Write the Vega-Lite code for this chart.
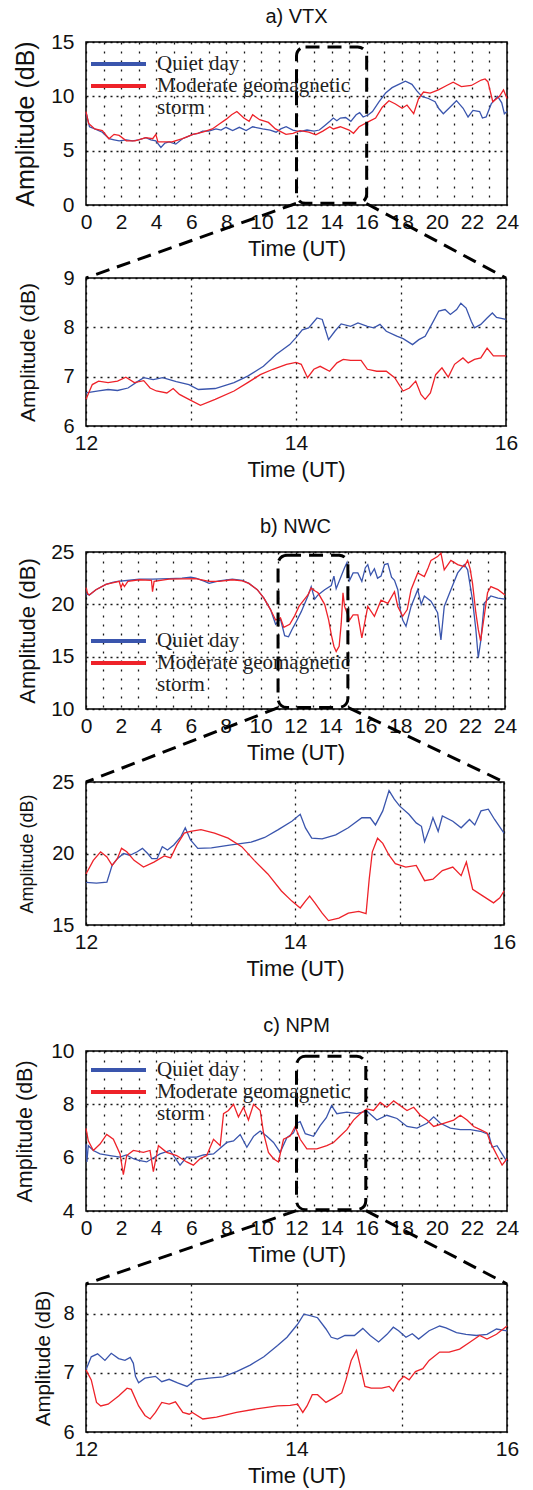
{
"$schema": "https://vega.github.io/schema/vega-lite/v6.json",
"background": "#ffffff",
"padding": {"left": 12, "top": 6, "right": 5, "bottom": 5},
"autosize": {"type": "pad"},
"spacing": 30,
"bounds": "flush",
"resolve": {"scale": {"color": "independent"}, "legend": {"color": "independent"}},
"datasets": {
"vtx": [
{"series":"Quiet day","time":0,"amp":8.5},{"series":"Quiet day","time":0.2,"amp":7.2},{"series":"Quiet day","time":0.5,"amp":7.0},{"series":"Quiet day","time":0.93,"amp":6.7},{"series":"Quiet day","time":1.31,"amp":6.1},{"series":"Quiet day","time":1.6,"amp":6.0},{"series":"Quiet day","time":1.89,"amp":5.9},{"series":"Quiet day","time":2.3,"amp":6.0},{"series":"Quiet day","time":2.65,"amp":5.9},{"series":"Quiet day","time":3.0,"amp":6.0},{"series":"Quiet day","time":3.41,"amp":6.2},{"series":"Quiet day","time":3.7,"amp":6.0},{"series":"Quiet day","time":3.98,"amp":5.9},{"series":"Quiet day","time":4.27,"amp":5.3},{"series":"Quiet day","time":4.5,"amp":5.7},{"series":"Quiet day","time":4.74,"amp":5.8},{"series":"Quiet day","time":5.12,"amp":5.6},{"series":"Quiet day","time":5.5,"amp":6.1},{"series":"Quiet day","time":5.8,"amp":6.3},{"series":"Quiet day","time":6.08,"amp":6.5},{"series":"Quiet day","time":6.4,"amp":6.6},{"series":"Quiet day","time":6.65,"amp":6.8},{"series":"Quiet day","time":7.0,"amp":6.8},{"series":"Quiet day","time":7.41,"amp":7.0},{"series":"Quiet day","time":7.7,"amp":6.9},{"series":"Quiet day","time":7.98,"amp":7.15},{"series":"Quiet day","time":8.36,"amp":6.85},{"series":"Quiet day","time":8.74,"amp":7.15},{"series":"Quiet day","time":9.13,"amp":6.85},{"series":"Quiet day","time":9.5,"amp":7.2},{"series":"Quiet day","time":10.07,"amp":7.0},{"series":"Quiet day","time":10.5,"amp":6.9},{"series":"Quiet day","time":10.84,"amp":6.7},{"series":"Quiet day","time":11.1,"amp":7.0},{"series":"Quiet day","time":11.41,"amp":7.2},{"series":"Quiet day","time":11.79,"amp":6.9},{"series":"Quiet day","time":12.2,"amp":6.75},{"series":"Quiet day","time":12.6,"amp":6.9},{"series":"Quiet day","time":13.0,"amp":6.8},{"series":"Quiet day","time":13.3,"amp":6.9},{"series":"Quiet day","time":13.6,"amp":7.3},{"series":"Quiet day","time":13.9,"amp":7.7},{"series":"Quiet day","time":14.1,"amp":8.0},{"series":"Quiet day","time":14.3,"amp":7.75},{"series":"Quiet day","time":14.5,"amp":8.0},{"series":"Quiet day","time":14.8,"amp":8.05},{"series":"Quiet day","time":15.1,"amp":7.7},{"series":"Quiet day","time":15.4,"amp":8.3},{"series":"Quiet day","time":15.6,"amp":8.5},{"series":"Quiet day","time":15.8,"amp":8.1},{"series":"Quiet day","time":16.1,"amp":8.3},{"series":"Quiet day","time":16.33,"amp":8.6},{"series":"Quiet day","time":16.7,"amp":9.5},{"series":"Quiet day","time":17.08,"amp":10.3},{"series":"Quiet day","time":17.45,"amp":10.8},{"series":"Quiet day","time":17.83,"amp":11.1},{"series":"Quiet day","time":18.21,"amp":11.4},{"series":"Quiet day","time":18.58,"amp":11.1},{"series":"Quiet day","time":18.86,"amp":10.5},{"series":"Quiet day","time":19.15,"amp":10.0},{"series":"Quiet day","time":19.52,"amp":9.8},{"series":"Quiet day","time":19.9,"amp":9.5},{"series":"Quiet day","time":20.1,"amp":8.9},{"series":"Quiet day","time":20.37,"amp":8.4},{"series":"Quiet day","time":20.75,"amp":9.0},{"series":"Quiet day","time":21.12,"amp":9.6},{"series":"Quiet day","time":21.5,"amp":8.9},{"series":"Quiet day","time":21.78,"amp":8.1},{"series":"Quiet day","time":22.06,"amp":8.7},{"series":"Quiet day","time":22.44,"amp":8.6},{"series":"Quiet day","time":22.6,"amp":8.0},{"series":"Quiet day","time":22.81,"amp":8.1},{"series":"Quiet day","time":23.1,"amp":9.3},{"series":"Quiet day","time":23.47,"amp":10.0},{"series":"Quiet day","time":23.7,"amp":9.4},{"series":"Quiet day","time":23.85,"amp":8.4},{"series":"Quiet day","time":24,"amp":8.6},
{"series":"Moderate geomagnetic storm","time":0,"amp":8.6},{"series":"Moderate geomagnetic storm","time":0.15,"amp":7.5},{"series":"Moderate geomagnetic storm","time":0.5,"amp":7.0},{"series":"Moderate geomagnetic storm","time":0.93,"amp":6.85},{"series":"Moderate geomagnetic storm","time":1.31,"amp":6.1},{"series":"Moderate geomagnetic storm","time":1.6,"amp":6.5},{"series":"Moderate geomagnetic storm","time":1.89,"amp":6.4},{"series":"Moderate geomagnetic storm","time":2.3,"amp":5.9},{"series":"Moderate geomagnetic storm","time":2.8,"amp":5.9},{"series":"Moderate geomagnetic storm","time":3.41,"amp":6.2},{"series":"Moderate geomagnetic storm","time":3.8,"amp":6.1},{"series":"Moderate geomagnetic storm","time":3.98,"amp":6.5},{"series":"Moderate geomagnetic storm","time":4.1,"amp":5.8},{"series":"Moderate geomagnetic storm","time":4.9,"amp":5.8},{"series":"Moderate geomagnetic storm","time":5.5,"amp":6.1},{"series":"Moderate geomagnetic storm","time":6.1,"amp":6.5},{"series":"Moderate geomagnetic storm","time":6.65,"amp":6.7},{"series":"Moderate geomagnetic storm","time":7.2,"amp":7.0},{"series":"Moderate geomagnetic storm","time":7.6,"amp":7.45},{"series":"Moderate geomagnetic storm","time":8.0,"amp":7.9},{"series":"Moderate geomagnetic storm","time":8.3,"amp":8.3},{"series":"Moderate geomagnetic storm","time":8.6,"amp":8.6},{"series":"Moderate geomagnetic storm","time":9.0,"amp":8.0},{"series":"Moderate geomagnetic storm","time":9.3,"amp":7.7},{"series":"Moderate geomagnetic storm","time":9.5,"amp":8.3},{"series":"Moderate geomagnetic storm","time":9.9,"amp":7.85},{"series":"Moderate geomagnetic storm","time":10.4,"amp":7.6},{"series":"Moderate geomagnetic storm","time":10.8,"amp":7.0},{"series":"Moderate geomagnetic storm","time":11.4,"amp":6.5},{"series":"Moderate geomagnetic storm","time":11.8,"amp":6.6},{"series":"Moderate geomagnetic storm","time":12.2,"amp":6.85},{"series":"Moderate geomagnetic storm","time":12.7,"amp":6.7},{"series":"Moderate geomagnetic storm","time":13.1,"amp":6.45},{"series":"Moderate geomagnetic storm","time":13.5,"amp":6.8},{"series":"Moderate geomagnetic storm","time":13.9,"amp":7.2},{"series":"Moderate geomagnetic storm","time":14.1,"amp":7.0},{"series":"Moderate geomagnetic storm","time":14.5,"amp":7.2},{"series":"Moderate geomagnetic storm","time":15.0,"amp":6.9},{"series":"Moderate geomagnetic storm","time":15.25,"amp":6.6},{"series":"Moderate geomagnetic storm","time":15.57,"amp":7.2},{"series":"Moderate geomagnetic storm","time":16.14,"amp":7.7},{"series":"Moderate geomagnetic storm","time":16.51,"amp":8.0},{"series":"Moderate geomagnetic storm","time":16.89,"amp":9.0},{"series":"Moderate geomagnetic storm","time":17.27,"amp":9.6},{"series":"Moderate geomagnetic storm","time":17.64,"amp":9.3},{"series":"Moderate geomagnetic storm","time":18.02,"amp":8.9},{"series":"Moderate geomagnetic storm","time":18.3,"amp":9.2},{"series":"Moderate geomagnetic storm","time":18.68,"amp":8.4},{"series":"Moderate geomagnetic storm","time":18.96,"amp":9.8},{"series":"Moderate geomagnetic storm","time":19.24,"amp":10.4},{"series":"Moderate geomagnetic storm","time":19.62,"amp":10.3},{"series":"Moderate geomagnetic storm","time":20.09,"amp":10.6},{"series":"Moderate geomagnetic storm","time":20.56,"amp":11.0},{"series":"Moderate geomagnetic storm","time":20.93,"amp":11.3},{"series":"Moderate geomagnetic storm","time":21.4,"amp":10.9},{"series":"Moderate geomagnetic storm","time":21.97,"amp":11.0},{"series":"Moderate geomagnetic storm","time":22.53,"amp":11.5},{"series":"Moderate geomagnetic storm","time":22.75,"amp":11.6},{"series":"Moderate geomagnetic storm","time":22.91,"amp":11.35},{"series":"Moderate geomagnetic storm","time":23.19,"amp":9.5},{"series":"Moderate geomagnetic storm","time":23.57,"amp":10.0},{"series":"Moderate geomagnetic storm","time":23.8,"amp":10.6},{"series":"Moderate geomagnetic storm","time":24,"amp":9.8}
],
"vtxZoom": [
{"series":"Quiet day","time":12.0,"amp":6.67},{"series":"Quiet day","time":12.12,"amp":6.71},{"series":"Quiet day","time":12.21,"amp":6.74},{"series":"Quiet day","time":12.3,"amp":6.72},{"series":"Quiet day","time":12.4,"amp":6.77},{"series":"Quiet day","time":12.49,"amp":6.9},{"series":"Quiet day","time":12.55,"amp":6.98},{"series":"Quiet day","time":12.64,"amp":6.94},{"series":"Quiet day","time":12.73,"amp":6.98},{"series":"Quiet day","time":12.86,"amp":6.9},{"series":"Quiet day","time":12.98,"amp":6.84},{"series":"Quiet day","time":13.07,"amp":6.74},{"series":"Quiet day","time":13.23,"amp":6.76},{"series":"Quiet day","time":13.41,"amp":6.88},{"series":"Quiet day","time":13.54,"amp":7.01},{"series":"Quiet day","time":13.69,"amp":7.21},{"series":"Quiet day","time":13.81,"amp":7.45},{"series":"Quiet day","time":13.94,"amp":7.65},{"series":"Quiet day","time":14.0,"amp":7.79},{"series":"Quiet day","time":14.06,"amp":7.95},{"series":"Quiet day","time":14.12,"amp":7.99},{"series":"Quiet day","time":14.2,"amp":8.19},{"series":"Quiet day","time":14.25,"amp":8.16},{"series":"Quiet day","time":14.31,"amp":7.75},{"series":"Quiet day","time":14.37,"amp":7.92},{"series":"Quiet day","time":14.43,"amp":8.07},{"series":"Quiet day","time":14.52,"amp":8.02},{"series":"Quiet day","time":14.59,"amp":8.09},{"series":"Quiet day","time":14.68,"amp":8.02},{"series":"Quiet day","time":14.74,"amp":7.99},{"series":"Quiet day","time":14.8,"amp":8.06},{"series":"Quiet day","time":14.86,"amp":7.92},{"series":"Quiet day","time":14.96,"amp":7.82},{"series":"Quiet day","time":15.02,"amp":7.77},{"series":"Quiet day","time":15.11,"amp":7.65},{"series":"Quiet day","time":15.17,"amp":7.75},{"series":"Quiet day","time":15.23,"amp":7.82},{"series":"Quiet day","time":15.3,"amp":8.09},{"series":"Quiet day","time":15.36,"amp":8.33},{"series":"Quiet day","time":15.42,"amp":8.36},{"series":"Quiet day","time":15.47,"amp":8.26},{"series":"Quiet day","time":15.53,"amp":8.36},{"series":"Quiet day","time":15.57,"amp":8.49},{"series":"Quiet day","time":15.62,"amp":8.39},{"series":"Quiet day","time":15.67,"amp":8.12},{"series":"Quiet day","time":15.7,"amp":7.99},{"series":"Quiet day","time":15.76,"amp":8.06},{"series":"Quiet day","time":15.82,"amp":8.19},{"series":"Quiet day","time":15.87,"amp":8.29},{"series":"Quiet day","time":15.91,"amp":8.2},{"series":"Quiet day","time":16.0,"amp":8.16},
{"series":"Moderate geomagnetic storm","time":12.0,"amp":6.54},{"series":"Moderate geomagnetic storm","time":12.06,"amp":6.84},{"series":"Moderate geomagnetic storm","time":12.12,"amp":6.91},{"series":"Moderate geomagnetic storm","time":12.21,"amp":6.88},{"series":"Moderate geomagnetic storm","time":12.3,"amp":6.91},{"series":"Moderate geomagnetic storm","time":12.38,"amp":6.99},{"series":"Moderate geomagnetic storm","time":12.46,"amp":6.88},{"series":"Moderate geomagnetic storm","time":12.55,"amp":6.92},{"series":"Moderate geomagnetic storm","time":12.61,"amp":6.77},{"series":"Moderate geomagnetic storm","time":12.67,"amp":6.71},{"series":"Moderate geomagnetic storm","time":12.77,"amp":6.67},{"series":"Moderate geomagnetic storm","time":12.83,"amp":6.76},{"series":"Moderate geomagnetic storm","time":12.89,"amp":6.64},{"series":"Moderate geomagnetic storm","time":12.98,"amp":6.54},{"series":"Moderate geomagnetic storm","time":13.09,"amp":6.42},{"series":"Moderate geomagnetic storm","time":13.23,"amp":6.54},{"series":"Moderate geomagnetic storm","time":13.41,"amp":6.71},{"series":"Moderate geomagnetic storm","time":13.54,"amp":6.88},{"series":"Moderate geomagnetic storm","time":13.66,"amp":7.04},{"series":"Moderate geomagnetic storm","time":13.78,"amp":7.15},{"series":"Moderate geomagnetic storm","time":13.91,"amp":7.25},{"series":"Moderate geomagnetic storm","time":14.0,"amp":7.29},{"series":"Moderate geomagnetic storm","time":14.05,"amp":7.25},{"series":"Moderate geomagnetic storm","time":14.11,"amp":6.98},{"series":"Moderate geomagnetic storm","time":14.17,"amp":7.15},{"series":"Moderate geomagnetic storm","time":14.23,"amp":7.21},{"series":"Moderate geomagnetic storm","time":14.32,"amp":7.11},{"series":"Moderate geomagnetic storm","time":14.39,"amp":7.28},{"series":"Moderate geomagnetic storm","time":14.45,"amp":7.35},{"series":"Moderate geomagnetic storm","time":14.52,"amp":7.33},{"series":"Moderate geomagnetic storm","time":14.62,"amp":7.33},{"series":"Moderate geomagnetic storm","time":14.68,"amp":7.15},{"series":"Moderate geomagnetic storm","time":14.77,"amp":7.11},{"series":"Moderate geomagnetic storm","time":14.86,"amp":7.11},{"series":"Moderate geomagnetic storm","time":14.94,"amp":6.98},{"series":"Moderate geomagnetic storm","time":15.02,"amp":6.71},{"series":"Moderate geomagnetic storm","time":15.08,"amp":6.77},{"series":"Moderate geomagnetic storm","time":15.14,"amp":6.91},{"series":"Moderate geomagnetic storm","time":15.19,"amp":6.64},{"series":"Moderate geomagnetic storm","time":15.23,"amp":6.54},{"series":"Moderate geomagnetic storm","time":15.28,"amp":6.67},{"series":"Moderate geomagnetic storm","time":15.33,"amp":7.04},{"series":"Moderate geomagnetic storm","time":15.39,"amp":7.18},{"series":"Moderate geomagnetic storm","time":15.45,"amp":6.99},{"series":"Moderate geomagnetic storm","time":15.51,"amp":7.25},{"series":"Moderate geomagnetic storm","time":15.59,"amp":7.38},{"series":"Moderate geomagnetic storm","time":15.64,"amp":7.28},{"series":"Moderate geomagnetic storm","time":15.7,"amp":7.35},{"series":"Moderate geomagnetic storm","time":15.76,"amp":7.38},{"series":"Moderate geomagnetic storm","time":15.82,"amp":7.58},{"series":"Moderate geomagnetic storm","time":15.88,"amp":7.42},{"series":"Moderate geomagnetic storm","time":16.0,"amp":7.42}
],
"nwc": [
{"series":"Quiet day","time":0,"amp":21.0},{"series":"Quiet day","time":0.19,"amp":20.9},{"series":"Quiet day","time":0.57,"amp":21.4},{"series":"Quiet day","time":1.14,"amp":21.9},{"series":"Quiet day","time":1.52,"amp":22.1},{"series":"Quiet day","time":1.81,"amp":22.2},{"series":"Quiet day","time":2.5,"amp":22.3},{"series":"Quiet day","time":3.05,"amp":22.4},{"series":"Quiet day","time":3.81,"amp":22.4},{"series":"Quiet day","time":4.76,"amp":22.45},{"series":"Quiet day","time":5.5,"amp":22.5},{"series":"Quiet day","time":6.0,"amp":22.6},{"series":"Quiet day","time":6.29,"amp":22.5},{"series":"Quiet day","time":6.8,"amp":22.2},{"series":"Quiet day","time":7.05,"amp":22.0},{"series":"Quiet day","time":7.62,"amp":22.25},{"series":"Quiet day","time":8.38,"amp":22.4},{"series":"Quiet day","time":8.95,"amp":22.3},{"series":"Quiet day","time":9.33,"amp":22.0},{"series":"Quiet day","time":9.81,"amp":21.4},{"series":"Quiet day","time":10.19,"amp":20.6},{"series":"Quiet day","time":10.57,"amp":19.5},{"series":"Quiet day","time":10.86,"amp":18.1},{"series":"Quiet day","time":11.14,"amp":18.6},{"series":"Quiet day","time":11.38,"amp":17.0},{"series":"Quiet day","time":11.6,"amp":16.9},{"series":"Quiet day","time":11.8,"amp":17.6},{"series":"Quiet day","time":12.0,"amp":18.2},{"series":"Quiet day","time":12.33,"amp":19.3},{"series":"Quiet day","time":12.71,"amp":20.8},{"series":"Quiet day","time":12.9,"amp":21.7},{"series":"Quiet day","time":13.1,"amp":20.5},{"series":"Quiet day","time":13.29,"amp":20.9},{"series":"Quiet day","time":13.67,"amp":21.4},{"series":"Quiet day","time":14.05,"amp":21.8},{"series":"Quiet day","time":14.2,"amp":22.7},{"series":"Quiet day","time":14.33,"amp":21.5},{"series":"Quiet day","time":14.62,"amp":22.7},{"series":"Quiet day","time":14.81,"amp":23.5},{"series":"Quiet day","time":14.95,"amp":24.0},{"series":"Quiet day","time":15.1,"amp":22.3},{"series":"Quiet day","time":15.3,"amp":23.0},{"series":"Quiet day","time":15.57,"amp":23.0},{"series":"Quiet day","time":15.8,"amp":22.2},{"series":"Quiet day","time":16.0,"amp":23.5},{"series":"Quiet day","time":16.14,"amp":23.8},{"series":"Quiet day","time":16.3,"amp":22.8},{"series":"Quiet day","time":16.52,"amp":23.4},{"series":"Quiet day","time":16.7,"amp":22.5},{"series":"Quiet day","time":16.9,"amp":22.7},{"series":"Quiet day","time":17.1,"amp":23.8},{"series":"Quiet day","time":17.29,"amp":23.9},{"series":"Quiet day","time":17.5,"amp":22.6},{"series":"Quiet day","time":17.67,"amp":22.3},{"series":"Quiet day","time":17.86,"amp":21.4},{"series":"Quiet day","time":18.0,"amp":19.5},{"series":"Quiet day","time":18.14,"amp":18.5},{"series":"Quiet day","time":18.33,"amp":17.9},{"series":"Quiet day","time":18.62,"amp":19.8},{"series":"Quiet day","time":19.0,"amp":21.4},{"series":"Quiet day","time":19.2,"amp":20.0},{"series":"Quiet day","time":19.38,"amp":20.8},{"series":"Quiet day","time":19.76,"amp":20.3},{"series":"Quiet day","time":20.14,"amp":19.2},{"series":"Quiet day","time":20.33,"amp":16.6},{"series":"Quiet day","time":20.52,"amp":19.8},{"series":"Quiet day","time":20.9,"amp":21.4},{"series":"Quiet day","time":21.29,"amp":23.0},{"series":"Quiet day","time":21.67,"amp":23.8},{"series":"Quiet day","time":21.86,"amp":23.3},{"series":"Quiet day","time":22.14,"amp":20.4},{"series":"Quiet day","time":22.33,"amp":17.6},{"series":"Quiet day","time":22.47,"amp":14.9},{"series":"Quiet day","time":22.62,"amp":16.6},{"series":"Quiet day","time":22.81,"amp":20.1},{"series":"Quiet day","time":23.19,"amp":20.8},{"series":"Quiet day","time":23.6,"amp":20.6},{"series":"Quiet day","time":24,"amp":20.5},
{"series":"Moderate geomagnetic storm","time":0,"amp":21.6},{"series":"Moderate geomagnetic storm","time":0.1,"amp":21.0},{"series":"Moderate geomagnetic storm","time":0.19,"amp":20.9},{"series":"Moderate geomagnetic storm","time":0.57,"amp":21.4},{"series":"Moderate geomagnetic storm","time":1.14,"amp":21.9},{"series":"Moderate geomagnetic storm","time":1.52,"amp":22.05},{"series":"Moderate geomagnetic storm","time":1.9,"amp":22.2},{"series":"Moderate geomagnetic storm","time":2.0,"amp":21.6},{"series":"Moderate geomagnetic storm","time":2.1,"amp":22.0},{"series":"Moderate geomagnetic storm","time":2.2,"amp":21.7},{"series":"Moderate geomagnetic storm","time":2.4,"amp":22.2},{"series":"Moderate geomagnetic storm","time":3.05,"amp":22.35},{"series":"Moderate geomagnetic storm","time":3.75,"amp":22.3},{"series":"Moderate geomagnetic storm","time":3.81,"amp":21.2},{"series":"Moderate geomagnetic storm","time":3.9,"amp":22.2},{"series":"Moderate geomagnetic storm","time":4.76,"amp":22.4},{"series":"Moderate geomagnetic storm","time":6.29,"amp":22.45},{"series":"Moderate geomagnetic storm","time":7.05,"amp":22.2},{"series":"Moderate geomagnetic storm","time":7.62,"amp":22.2},{"series":"Moderate geomagnetic storm","time":8.38,"amp":22.35},{"series":"Moderate geomagnetic storm","time":8.95,"amp":22.25},{"series":"Moderate geomagnetic storm","time":9.33,"amp":22.0},{"series":"Moderate geomagnetic storm","time":9.81,"amp":21.4},{"series":"Moderate geomagnetic storm","time":10.19,"amp":20.6},{"series":"Moderate geomagnetic storm","time":10.57,"amp":19.5},{"series":"Moderate geomagnetic storm","time":10.86,"amp":18.5},{"series":"Moderate geomagnetic storm","time":11.14,"amp":18.7},{"series":"Moderate geomagnetic storm","time":11.33,"amp":17.8},{"series":"Moderate geomagnetic storm","time":11.67,"amp":18.1},{"series":"Moderate geomagnetic storm","time":11.95,"amp":18.9},{"series":"Moderate geomagnetic storm","time":12.2,"amp":19.8},{"series":"Moderate geomagnetic storm","time":12.33,"amp":20.1},{"series":"Moderate geomagnetic storm","time":12.71,"amp":20.9},{"series":"Moderate geomagnetic storm","time":12.9,"amp":21.55},{"series":"Moderate geomagnetic storm","time":13.1,"amp":21.3},{"series":"Moderate geomagnetic storm","time":13.29,"amp":21.1},{"series":"Moderate geomagnetic storm","time":13.67,"amp":20.0},{"series":"Moderate geomagnetic storm","time":13.9,"amp":18.5},{"series":"Moderate geomagnetic storm","time":14.05,"amp":17.1},{"series":"Moderate geomagnetic storm","time":14.2,"amp":16.0},{"series":"Moderate geomagnetic storm","time":14.33,"amp":15.5},{"series":"Moderate geomagnetic storm","time":14.5,"amp":16.0},{"series":"Moderate geomagnetic storm","time":14.62,"amp":18.2},{"series":"Moderate geomagnetic storm","time":14.72,"amp":21.1},{"series":"Moderate geomagnetic storm","time":14.81,"amp":19.8},{"series":"Moderate geomagnetic storm","time":15.1,"amp":18.5},{"series":"Moderate geomagnetic storm","time":15.3,"amp":19.0},{"series":"Moderate geomagnetic storm","time":15.57,"amp":19.0},{"series":"Moderate geomagnetic storm","time":15.8,"amp":16.8},{"series":"Moderate geomagnetic storm","time":16.14,"amp":19.8},{"series":"Moderate geomagnetic storm","time":16.52,"amp":18.86},{"series":"Moderate geomagnetic storm","time":16.9,"amp":20.4},{"series":"Moderate geomagnetic storm","time":17.29,"amp":20.1},{"series":"Moderate geomagnetic storm","time":17.67,"amp":21.2},{"series":"Moderate geomagnetic storm","time":17.86,"amp":19.8},{"series":"Moderate geomagnetic storm","time":18.14,"amp":18.86},{"series":"Moderate geomagnetic storm","time":18.4,"amp":19.5},{"series":"Moderate geomagnetic storm","time":18.62,"amp":21.4},{"series":"Moderate geomagnetic storm","time":19.0,"amp":23.0},{"series":"Moderate geomagnetic storm","time":19.38,"amp":22.66},{"series":"Moderate geomagnetic storm","time":19.6,"amp":23.5},{"series":"Moderate geomagnetic storm","time":19.76,"amp":24.2},{"series":"Moderate geomagnetic storm","time":20.14,"amp":24.56},{"series":"Moderate geomagnetic storm","time":20.33,"amp":24.9},{"series":"Moderate geomagnetic storm","time":20.52,"amp":23.3},{"series":"Moderate geomagnetic storm","time":20.9,"amp":24.2},{"series":"Moderate geomagnetic storm","time":21.29,"amp":23.8},{"series":"Moderate geomagnetic storm","time":21.67,"amp":23.6},{"series":"Moderate geomagnetic storm","time":21.86,"amp":24.2},{"series":"Moderate geomagnetic storm","time":22.0,"amp":23.4},{"series":"Moderate geomagnetic storm","time":22.14,"amp":22.0},{"series":"Moderate geomagnetic storm","time":22.33,"amp":19.2},{"series":"Moderate geomagnetic storm","time":22.47,"amp":17.6},{"series":"Moderate geomagnetic storm","time":22.6,"amp":16.5},{"series":"Moderate geomagnetic storm","time":22.81,"amp":18.86},{"series":"Moderate geomagnetic storm","time":23.0,"amp":21.1},{"series":"Moderate geomagnetic storm","time":23.19,"amp":21.7},{"series":"Moderate geomagnetic storm","time":23.6,"amp":21.4},{"series":"Moderate geomagnetic storm","time":24,"amp":20.9}
],
"nwcZoom": [
{"series":"Quiet day","time":12.0,"amp":17.98},{"series":"Quiet day","time":12.1,"amp":17.93},{"series":"Quiet day","time":12.2,"amp":18.0},{"series":"Quiet day","time":12.25,"amp":19.17},{"series":"Quiet day","time":12.3,"amp":19.64},{"series":"Quiet day","time":12.36,"amp":20.0},{"series":"Quiet day","time":12.42,"amp":19.88},{"series":"Quiet day","time":12.49,"amp":20.12},{"series":"Quiet day","time":12.54,"amp":20.36},{"series":"Quiet day","time":12.59,"amp":20.0},{"series":"Quiet day","time":12.63,"amp":19.64},{"series":"Quiet day","time":12.68,"amp":19.64},{"series":"Quiet day","time":12.73,"amp":20.48},{"series":"Quiet day","time":12.78,"amp":20.24},{"series":"Quiet day","time":12.84,"amp":20.6},{"series":"Quiet day","time":12.91,"amp":21.2},{"series":"Quiet day","time":12.95,"amp":21.8},{"series":"Quiet day","time":13.0,"amp":20.95},{"series":"Quiet day","time":13.07,"amp":20.36},{"series":"Quiet day","time":13.2,"amp":20.4},{"series":"Quiet day","time":13.39,"amp":20.6},{"series":"Quiet day","time":13.58,"amp":20.79},{"series":"Quiet day","time":13.71,"amp":21.12},{"series":"Quiet day","time":13.84,"amp":21.67},{"series":"Quiet day","time":13.97,"amp":22.26},{"series":"Quiet day","time":14.05,"amp":22.74},{"series":"Quiet day","time":14.1,"amp":21.79},{"series":"Quiet day","time":14.16,"amp":21.07},{"series":"Quiet day","time":14.26,"amp":21.02},{"series":"Quiet day","time":14.39,"amp":21.3},{"series":"Quiet day","time":14.51,"amp":21.8},{"series":"Quiet day","time":14.64,"amp":22.5},{"series":"Quiet day","time":14.72,"amp":22.5},{"series":"Quiet day","time":14.77,"amp":22.0},{"series":"Quiet day","time":14.84,"amp":22.98},{"series":"Quiet day","time":14.9,"amp":24.4},{"series":"Quiet day","time":14.95,"amp":23.8},{"series":"Quiet day","time":15.0,"amp":23.33},{"series":"Quiet day","time":15.09,"amp":22.74},{"series":"Quiet day","time":15.16,"amp":22.14},{"series":"Quiet day","time":15.21,"amp":21.9},{"series":"Quiet day","time":15.24,"amp":20.83},{"series":"Quiet day","time":15.29,"amp":21.79},{"series":"Quiet day","time":15.32,"amp":22.5},{"series":"Quiet day","time":15.37,"amp":21.55},{"series":"Quiet day","time":15.41,"amp":22.62},{"series":"Quiet day","time":15.51,"amp":22.26},{"series":"Quiet day","time":15.59,"amp":21.8},{"series":"Quiet day","time":15.67,"amp":22.38},{"series":"Quiet day","time":15.72,"amp":22.0},{"series":"Quiet day","time":15.78,"amp":22.98},{"series":"Quiet day","time":15.85,"amp":23.1},{"series":"Quiet day","time":15.91,"amp":22.38},{"series":"Quiet day","time":16.0,"amp":21.43},
{"series":"Moderate geomagnetic storm","time":12.0,"amp":18.57},{"series":"Moderate geomagnetic storm","time":12.07,"amp":19.52},{"series":"Moderate geomagnetic storm","time":12.14,"amp":20.12},{"series":"Moderate geomagnetic storm","time":12.2,"amp":19.76},{"series":"Moderate geomagnetic storm","time":12.25,"amp":19.17},{"series":"Moderate geomagnetic storm","time":12.3,"amp":19.64},{"series":"Moderate geomagnetic storm","time":12.34,"amp":20.36},{"series":"Moderate geomagnetic storm","time":12.39,"amp":20.12},{"series":"Moderate geomagnetic storm","time":12.46,"amp":19.52},{"series":"Moderate geomagnetic storm","time":12.55,"amp":19.05},{"series":"Moderate geomagnetic storm","time":12.65,"amp":19.4},{"series":"Moderate geomagnetic storm","time":12.75,"amp":19.83},{"series":"Moderate geomagnetic storm","time":12.81,"amp":19.69},{"series":"Moderate geomagnetic storm","time":12.87,"amp":20.6},{"series":"Moderate geomagnetic storm","time":12.94,"amp":21.43},{"series":"Moderate geomagnetic storm","time":13.0,"amp":21.55},{"series":"Moderate geomagnetic storm","time":13.1,"amp":21.67},{"series":"Moderate geomagnetic storm","time":13.23,"amp":21.43},{"series":"Moderate geomagnetic storm","time":13.36,"amp":21.07},{"series":"Moderate geomagnetic storm","time":13.49,"amp":20.48},{"series":"Moderate geomagnetic storm","time":13.61,"amp":19.52},{"series":"Moderate geomagnetic storm","time":13.74,"amp":18.57},{"series":"Moderate geomagnetic storm","time":13.87,"amp":17.38},{"series":"Moderate geomagnetic storm","time":13.97,"amp":16.67},{"series":"Moderate geomagnetic storm","time":14.05,"amp":16.19},{"series":"Moderate geomagnetic storm","time":14.1,"amp":16.67},{"series":"Moderate geomagnetic storm","time":14.14,"amp":17.02},{"series":"Moderate geomagnetic storm","time":14.19,"amp":16.55},{"series":"Moderate geomagnetic storm","time":14.26,"amp":15.83},{"series":"Moderate geomagnetic storm","time":14.32,"amp":15.31},{"series":"Moderate geomagnetic storm","time":14.42,"amp":15.48},{"series":"Moderate geomagnetic storm","time":14.51,"amp":15.83},{"series":"Moderate geomagnetic storm","time":14.61,"amp":15.95},{"series":"Moderate geomagnetic storm","time":14.68,"amp":15.79},{"series":"Moderate geomagnetic storm","time":14.71,"amp":18.2},{"series":"Moderate geomagnetic storm","time":14.74,"amp":20.12},{"series":"Moderate geomagnetic storm","time":14.79,"amp":21.07},{"series":"Moderate geomagnetic storm","time":14.84,"amp":20.71},{"series":"Moderate geomagnetic storm","time":14.9,"amp":19.88},{"series":"Moderate geomagnetic storm","time":14.96,"amp":19.29},{"series":"Moderate geomagnetic storm","time":15.06,"amp":19.05},{"series":"Moderate geomagnetic storm","time":15.16,"amp":19.17},{"series":"Moderate geomagnetic storm","time":15.24,"amp":18.1},{"series":"Moderate geomagnetic storm","time":15.32,"amp":18.2},{"series":"Moderate geomagnetic storm","time":15.41,"amp":18.81},{"series":"Moderate geomagnetic storm","time":15.51,"amp":19.05},{"series":"Moderate geomagnetic storm","time":15.59,"amp":18.45},{"series":"Moderate geomagnetic storm","time":15.64,"amp":19.4},{"series":"Moderate geomagnetic storm","time":15.7,"amp":17.5},{"series":"Moderate geomagnetic storm","time":15.8,"amp":17.02},{"series":"Moderate geomagnetic storm","time":15.9,"amp":16.55},{"series":"Moderate geomagnetic storm","time":15.96,"amp":16.9},{"series":"Moderate geomagnetic storm","time":16.0,"amp":17.38}
],
"npm": [
{"series":"Quiet day","time":0,"amp":6.5},{"series":"Quiet day","time":0.05,"amp":5.84},{"series":"Quiet day","time":0.13,"amp":6.45},{"series":"Quiet day","time":0.42,"amp":6.27},{"series":"Quiet day","time":0.8,"amp":6.14},{"series":"Quiet day","time":1.37,"amp":6.08},{"series":"Quiet day","time":1.94,"amp":6.02},{"series":"Quiet day","time":2.3,"amp":6.1},{"series":"Quiet day","time":2.7,"amp":5.96},{"series":"Quiet day","time":3.0,"amp":5.9},{"series":"Quiet day","time":3.46,"amp":5.84},{"series":"Quiet day","time":4.22,"amp":6.14},{"series":"Quiet day","time":4.79,"amp":6.27},{"series":"Quiet day","time":5.36,"amp":5.72},{"series":"Quiet day","time":5.74,"amp":6.02},{"series":"Quiet day","time":6.31,"amp":6.02},{"series":"Quiet day","time":6.69,"amp":6.1},{"series":"Quiet day","time":7.27,"amp":6.14},{"series":"Quiet day","time":8.03,"amp":6.57},{"series":"Quiet day","time":8.41,"amp":6.63},{"series":"Quiet day","time":8.79,"amp":6.87},{"series":"Quiet day","time":9.17,"amp":6.39},{"series":"Quiet day","time":9.55,"amp":6.8},{"series":"Quiet day","time":9.93,"amp":7.0},{"series":"Quiet day","time":10.31,"amp":6.8},{"series":"Quiet day","time":10.69,"amp":6.57},{"series":"Quiet day","time":11.07,"amp":6.2},{"series":"Quiet day","time":11.45,"amp":6.75},{"series":"Quiet day","time":11.83,"amp":6.93},{"series":"Quiet day","time":12.05,"amp":7.3},{"series":"Quiet day","time":12.21,"amp":7.35},{"series":"Quiet day","time":12.5,"amp":6.9},{"series":"Quiet day","time":12.97,"amp":6.8},{"series":"Quiet day","time":13.35,"amp":7.2},{"series":"Quiet day","time":13.7,"amp":7.5},{"series":"Quiet day","time":14.0,"amp":7.95},{"series":"Quiet day","time":14.3,"amp":7.65},{"series":"Quiet day","time":14.87,"amp":7.71},{"series":"Quiet day","time":15.44,"amp":7.65},{"series":"Quiet day","time":16.01,"amp":7.75},{"series":"Quiet day","time":16.58,"amp":7.41},{"series":"Quiet day","time":17.15,"amp":7.59},{"series":"Quiet day","time":17.73,"amp":7.47},{"series":"Quiet day","time":18.3,"amp":7.17},{"series":"Quiet day","time":18.87,"amp":7.11},{"series":"Quiet day","time":19.44,"amp":7.29},{"series":"Quiet day","time":19.82,"amp":7.53},{"series":"Quiet day","time":20.2,"amp":7.29},{"series":"Quiet day","time":20.77,"amp":7.11},{"series":"Quiet day","time":21.34,"amp":7.05},{"series":"Quiet day","time":21.91,"amp":7.05},{"series":"Quiet day","time":22.48,"amp":6.99},{"series":"Quiet day","time":22.96,"amp":6.87},{"series":"Quiet day","time":23.15,"amp":6.39},{"series":"Quiet day","time":23.43,"amp":6.45},{"series":"Quiet day","time":23.72,"amp":6.14},{"series":"Quiet day","time":24,"amp":5.84},
{"series":"Moderate geomagnetic storm","time":0,"amp":7.1},{"series":"Moderate geomagnetic storm","time":0.13,"amp":6.63},{"series":"Moderate geomagnetic storm","time":0.42,"amp":6.27},{"series":"Moderate geomagnetic storm","time":0.8,"amp":6.51},{"series":"Moderate geomagnetic storm","time":1.18,"amp":6.87},{"series":"Moderate geomagnetic storm","time":1.56,"amp":6.69},{"series":"Moderate geomagnetic storm","time":1.94,"amp":6.14},{"series":"Moderate geomagnetic storm","time":2.13,"amp":5.36},{"series":"Moderate geomagnetic storm","time":2.32,"amp":6.08},{"series":"Moderate geomagnetic storm","time":2.7,"amp":6.27},{"series":"Moderate geomagnetic storm","time":3.27,"amp":6.2},{"series":"Moderate geomagnetic storm","time":3.65,"amp":6.27},{"series":"Moderate geomagnetic storm","time":3.84,"amp":5.48},{"series":"Moderate geomagnetic storm","time":4.13,"amp":6.45},{"series":"Moderate geomagnetic storm","time":4.6,"amp":6.2},{"series":"Moderate geomagnetic storm","time":5.17,"amp":6.08},{"series":"Moderate geomagnetic storm","time":5.74,"amp":5.84},{"series":"Moderate geomagnetic storm","time":6.12,"amp":5.72},{"series":"Moderate geomagnetic storm","time":6.5,"amp":5.96},{"series":"Moderate geomagnetic storm","time":6.88,"amp":6.08},{"series":"Moderate geomagnetic storm","time":7.27,"amp":6.69},{"series":"Moderate geomagnetic storm","time":7.65,"amp":6.45},{"series":"Moderate geomagnetic storm","time":7.84,"amp":7.65},{"series":"Moderate geomagnetic storm","time":8.12,"amp":7.77},{"series":"Moderate geomagnetic storm","time":8.41,"amp":8.0},{"series":"Moderate geomagnetic storm","time":8.69,"amp":7.53},{"series":"Moderate geomagnetic storm","time":8.98,"amp":7.89},{"series":"Moderate geomagnetic storm","time":9.26,"amp":7.41},{"series":"Moderate geomagnetic storm","time":9.55,"amp":8.0},{"series":"Moderate geomagnetic storm","time":9.93,"amp":7.77},{"series":"Moderate geomagnetic storm","time":10.12,"amp":6.93},{"series":"Moderate geomagnetic storm","time":10.4,"amp":6.2},{"series":"Moderate geomagnetic storm","time":10.69,"amp":5.96},{"series":"Moderate geomagnetic storm","time":10.97,"amp":5.84},{"series":"Moderate geomagnetic storm","time":11.26,"amp":6.69},{"series":"Moderate geomagnetic storm","time":11.64,"amp":6.81},{"series":"Moderate geomagnetic storm","time":11.92,"amp":7.17},{"series":"Moderate geomagnetic storm","time":12.21,"amp":6.69},{"series":"Moderate geomagnetic storm","time":12.59,"amp":6.33},{"series":"Moderate geomagnetic storm","time":13.16,"amp":6.33},{"series":"Moderate geomagnetic storm","time":13.73,"amp":6.45},{"series":"Moderate geomagnetic storm","time":14.11,"amp":6.57},{"series":"Moderate geomagnetic storm","time":14.49,"amp":6.81},{"series":"Moderate geomagnetic storm","time":14.87,"amp":7.05},{"series":"Moderate geomagnetic storm","time":15.25,"amp":7.41},{"series":"Moderate geomagnetic storm","time":15.63,"amp":7.65},{"series":"Moderate geomagnetic storm","time":16.01,"amp":7.83},{"series":"Moderate geomagnetic storm","time":16.39,"amp":7.77},{"series":"Moderate geomagnetic storm","time":16.77,"amp":8.07},{"series":"Moderate geomagnetic storm","time":17.15,"amp":7.89},{"series":"Moderate geomagnetic storm","time":17.54,"amp":8.13},{"series":"Moderate geomagnetic storm","time":17.92,"amp":7.95},{"series":"Moderate geomagnetic storm","time":18.3,"amp":7.77},{"series":"Moderate geomagnetic storm","time":18.68,"amp":7.89},{"series":"Moderate geomagnetic storm","time":19.06,"amp":7.59},{"series":"Moderate geomagnetic storm","time":19.44,"amp":7.41},{"series":"Moderate geomagnetic storm","time":19.82,"amp":7.17},{"series":"Moderate geomagnetic storm","time":20.39,"amp":7.29},{"series":"Moderate geomagnetic storm","time":20.96,"amp":7.41},{"series":"Moderate geomagnetic storm","time":21.34,"amp":7.59},{"series":"Moderate geomagnetic storm","time":21.72,"amp":7.41},{"series":"Moderate geomagnetic storm","time":22.1,"amp":7.17},{"series":"Moderate geomagnetic storm","time":22.48,"amp":7.05},{"series":"Moderate geomagnetic storm","time":22.86,"amp":6.93},{"series":"Moderate geomagnetic storm","time":23.05,"amp":6.57},{"series":"Moderate geomagnetic storm","time":23.24,"amp":6.33},{"series":"Moderate geomagnetic storm","time":23.53,"amp":5.96},{"series":"Moderate geomagnetic storm","time":23.72,"amp":5.72},{"series":"Moderate geomagnetic storm","time":24,"amp":5.96}
],
"npmZoom": [
{"series":"Quiet day","time":12.0,"amp":7.05},{"series":"Quiet day","time":12.05,"amp":7.27},{"series":"Quiet day","time":12.11,"amp":7.32},{"series":"Quiet day","time":12.18,"amp":7.21},{"series":"Quiet day","time":12.24,"amp":7.33},{"series":"Quiet day","time":12.31,"amp":7.24},{"series":"Quiet day","time":12.37,"amp":7.21},{"series":"Quiet day","time":12.42,"amp":7.26},{"series":"Quiet day","time":12.45,"amp":7.16},{"series":"Quiet day","time":12.47,"amp":6.94},{"series":"Quiet day","time":12.5,"amp":6.83},{"series":"Quiet day","time":12.56,"amp":6.91},{"series":"Quiet day","time":12.66,"amp":6.94},{"series":"Quiet day","time":12.72,"amp":6.85},{"series":"Quiet day","time":12.79,"amp":6.89},{"series":"Quiet day","time":12.87,"amp":6.83},{"series":"Quiet day","time":12.96,"amp":6.77},{"series":"Quiet day","time":13.04,"amp":6.88},{"series":"Quiet day","time":13.17,"amp":6.91},{"series":"Quiet day","time":13.3,"amp":6.93},{"series":"Quiet day","time":13.43,"amp":7.02},{"series":"Quiet day","time":13.56,"amp":7.13},{"series":"Quiet day","time":13.69,"amp":7.27},{"series":"Quiet day","time":13.82,"amp":7.46},{"series":"Quiet day","time":13.91,"amp":7.6},{"series":"Quiet day","time":14.01,"amp":7.82},{"series":"Quiet day","time":14.07,"amp":7.99},{"series":"Quiet day","time":14.14,"amp":7.96},{"series":"Quiet day","time":14.2,"amp":7.93},{"series":"Quiet day","time":14.28,"amp":7.74},{"series":"Quiet day","time":14.33,"amp":7.6},{"series":"Quiet day","time":14.39,"amp":7.57},{"series":"Quiet day","time":14.46,"amp":7.63},{"series":"Quiet day","time":14.55,"amp":7.63},{"series":"Quiet day","time":14.63,"amp":7.75},{"series":"Quiet day","time":14.7,"amp":7.63},{"series":"Quiet day","time":14.78,"amp":7.52},{"series":"Quiet day","time":14.86,"amp":7.65},{"series":"Quiet day","time":14.92,"amp":7.77},{"series":"Quiet day","time":14.97,"amp":7.71},{"series":"Quiet day","time":15.04,"amp":7.6},{"series":"Quiet day","time":15.1,"amp":7.66},{"series":"Quiet day","time":15.16,"amp":7.57},{"series":"Quiet day","time":15.26,"amp":7.71},{"series":"Quiet day","time":15.36,"amp":7.79},{"series":"Quiet day","time":15.42,"amp":7.76},{"series":"Quiet day","time":15.52,"amp":7.68},{"series":"Quiet day","time":15.61,"amp":7.65},{"series":"Quiet day","time":15.71,"amp":7.63},{"series":"Quiet day","time":15.81,"amp":7.65},{"series":"Quiet day","time":15.9,"amp":7.74},{"series":"Quiet day","time":16.0,"amp":7.71},
{"series":"Moderate geomagnetic storm","time":12.0,"amp":7.05},{"series":"Moderate geomagnetic storm","time":12.05,"amp":6.88},{"series":"Moderate geomagnetic storm","time":12.1,"amp":6.5},{"series":"Moderate geomagnetic storm","time":12.14,"amp":6.44},{"series":"Moderate geomagnetic storm","time":12.21,"amp":6.47},{"series":"Moderate geomagnetic storm","time":12.31,"amp":6.61},{"series":"Moderate geomagnetic storm","time":12.39,"amp":6.74},{"series":"Moderate geomagnetic storm","time":12.43,"amp":6.72},{"series":"Moderate geomagnetic storm","time":12.5,"amp":6.44},{"series":"Moderate geomagnetic storm","time":12.56,"amp":6.28},{"series":"Moderate geomagnetic storm","time":12.61,"amp":6.22},{"series":"Moderate geomagnetic storm","time":12.66,"amp":6.33},{"series":"Moderate geomagnetic storm","time":12.72,"amp":6.5},{"series":"Moderate geomagnetic storm","time":12.79,"amp":6.47},{"series":"Moderate geomagnetic storm","time":12.85,"amp":6.51},{"series":"Moderate geomagnetic storm","time":12.92,"amp":6.33},{"series":"Moderate geomagnetic storm","time":12.98,"amp":6.3},{"series":"Moderate geomagnetic storm","time":13.01,"amp":6.33},{"series":"Moderate geomagnetic storm","time":13.11,"amp":6.22},{"series":"Moderate geomagnetic storm","time":13.24,"amp":6.25},{"series":"Moderate geomagnetic storm","time":13.43,"amp":6.33},{"series":"Moderate geomagnetic storm","time":13.62,"amp":6.39},{"series":"Moderate geomagnetic storm","time":13.82,"amp":6.44},{"series":"Moderate geomagnetic storm","time":13.94,"amp":6.45},{"series":"Moderate geomagnetic storm","time":14.01,"amp":6.47},{"series":"Moderate geomagnetic storm","time":14.06,"amp":6.33},{"series":"Moderate geomagnetic storm","time":14.1,"amp":6.44},{"series":"Moderate geomagnetic storm","time":14.15,"amp":6.63},{"series":"Moderate geomagnetic storm","time":14.2,"amp":6.63},{"series":"Moderate geomagnetic storm","time":14.28,"amp":6.5},{"series":"Moderate geomagnetic storm","time":14.36,"amp":6.58},{"series":"Moderate geomagnetic storm","time":14.43,"amp":6.66},{"series":"Moderate geomagnetic storm","time":14.47,"amp":6.88},{"series":"Moderate geomagnetic storm","time":14.52,"amp":7.21},{"series":"Moderate geomagnetic storm","time":14.57,"amp":7.38},{"series":"Moderate geomagnetic storm","time":14.6,"amp":7.16},{"series":"Moderate geomagnetic storm","time":14.65,"amp":6.77},{"series":"Moderate geomagnetic storm","time":14.71,"amp":6.74},{"series":"Moderate geomagnetic storm","time":14.81,"amp":6.74},{"series":"Moderate geomagnetic storm","time":14.88,"amp":6.77},{"series":"Moderate geomagnetic storm","time":14.92,"amp":6.69},{"series":"Moderate geomagnetic storm","time":14.97,"amp":6.85},{"series":"Moderate geomagnetic storm","time":15.02,"amp":6.94},{"series":"Moderate geomagnetic storm","time":15.07,"amp":6.88},{"series":"Moderate geomagnetic storm","time":15.13,"amp":7.02},{"series":"Moderate geomagnetic storm","time":15.2,"amp":7.07},{"series":"Moderate geomagnetic storm","time":15.26,"amp":7.21},{"series":"Moderate geomagnetic storm","time":15.36,"amp":7.35},{"series":"Moderate geomagnetic storm","time":15.45,"amp":7.35},{"series":"Moderate geomagnetic storm","time":15.55,"amp":7.4},{"series":"Moderate geomagnetic storm","time":15.65,"amp":7.52},{"series":"Moderate geomagnetic storm","time":15.74,"amp":7.63},{"series":"Moderate geomagnetic storm","time":15.81,"amp":7.57},{"series":"Moderate geomagnetic storm","time":15.9,"amp":7.65},{"series":"Moderate geomagnetic storm","time":16.0,"amp":7.79}
]
},
"vconcat": [
{
"width": 421, "height": 163,
"title": {"text": "a) VTX"},
"layer": [
{"data": {"name": "vtx"}, "mark": {"type": "line", "strokeWidth": 1.3},
"encoding": {
"x": {"field": "time", "type": "quantitative", "scale": {"domain": [0, 24], "nice": false, "zero": false}, "axis": {"title": "Time (UT)", "values": [0,1,2,3,4,5,6,7,8,9,10,11,12,13,14,15,16,17,18,19,20,21,22,23,24], "tickCount": 30, "format": "d", "labelExpr": "datum.value % 2 === 0 ? datum.label : ''", "gridDash": [2, 7]}},
"y": {"field": "amp", "type": "quantitative", "scale": {"domain": [0, 15], "nice": false, "zero": false}, "axis": {"title": "Amplitude (dB)", "values": [0, 5, 10, 15], "format": "d", "titleX": -61, "titleFontSize": 25, "gridDash": [2, 4]}},
"color": {"field": "series", "type": "nominal", "scale": {"domain": ["Quiet day", "Moderate geomagnetic storm"], "range": ["#3a55ad", "#ee2229"]},
"legend": {"orient": "none", "legendX": 3, "legendY": 11, "title": null, "padding": 0, "symbolType": "stroke", "symbolSize": 3025, "symbolStrokeWidth": 4, "symbolFillColor": "transparent", "clipHeight": 22, "rowPadding": 0, "labelBaseline": "middle", "labelFont": "Liberation Serif", "labelFontSize": 21, "labelColor": "#222", "labelOffset": 9, "labelLimit": 400, "labelExpr": "datum.label === 'Quiet day' ? 'Quiet day' : ['Moderate geomagnetic', 'storm']", "encode": {"labels": {"update": {"lineHeight": {"value": 22}}}}}}
}},
{"data": {"values": [{"x1": 12, "x2": 16, "y1": 0.15, "y2": 14.55}]},
"mark": {"type": "rect", "fill": "transparent", "stroke": "#000", "strokeWidth": 3, "strokeDash": [14, 8], "cornerRadius": 9, "clip": false},
"encoding": {
"x": {"field": "x1", "type": "quantitative", "scale": {"domain": [0, 24], "nice": false, "zero": false}},
"x2": {"field": "x2"},
"y": {"field": "y1", "type": "quantitative", "scale": {"domain": [0, 15], "nice": false, "zero": false}},
"y2": {"field": "y2"}
}}
]
},
{"width": 421, "height": 13, "view": {"stroke": null}, "data": {"values": [{"v": 0}]}, "mark": {"type": "point", "opacity": 0}},
{
"width": 420, "height": 148,
"layer": [
{"data": {"name": "vtxZoom"}, "mark": {"type": "line", "strokeWidth": 1.3},
"encoding": {
"x": {"field": "time", "type": "quantitative", "scale": {"domain": [12, 16], "nice": false, "zero": false}, "axis": {"title": "Time (UT)", "values": [12, 13, 14, 15, 16], "format": "d", "labelExpr": "datum.value % 2 === 0 ? datum.label : ''", "gridDash": [2, 5]}},
"y": {"field": "amp", "type": "quantitative", "scale": {"domain": [6, 9], "nice": false, "zero": false}, "axis": {"title": "Amplitude (dB)", "values": [6, 7, 8, 9], "format": "d", "titleX": -58, "titleFontSize": 21, "labelFontSize": 20, "gridDash": [2, 5]}},
"color": {"field": "series", "type": "nominal", "scale": {"domain": ["Quiet day", "Moderate geomagnetic storm"], "range": ["#3a55ad", "#ee2229"]}, "legend": null}
}},
{"data": {"values": [{"x1": 14.0, "y1": 10.51, "x2": 12, "y2": 9}, {"x1": 14.67, "y1": 10.51, "x2": 16, "y2": 9}]},
"mark": {"type": "rule", "color": "#000", "strokeWidth": 3, "strokeDash": [14, 8], "clip": false},
"encoding": {
"x": {"field": "x1", "type": "quantitative", "scale": {"domain": [12, 16], "nice": false, "zero": false}},
"x2": {"field": "x2"},
"y": {"field": "y1", "type": "quantitative", "scale": {"domain": [6, 9], "nice": false, "zero": false}},
"y2": {"field": "y2"}
}}
]
},
{"width": 421, "height": 66, "view": {"stroke": null}, "data": {"values": [{"v": 0}]}, "mark": {"type": "point", "opacity": 0}},
{
"width": 419, "height": 157,
"title": {"text": "b) NWC"},
"layer": [
{"data": {"name": "nwc"}, "mark": {"type": "line", "strokeWidth": 1.3},
"encoding": {
"x": {"field": "time", "type": "quantitative", "scale": {"domain": [0, 24], "nice": false, "zero": false}, "axis": {"title": "Time (UT)", "values": [0,1,2,3,4,5,6,7,8,9,10,11,12,13,14,15,16,17,18,19,20,21,22,23,24], "tickCount": 30, "format": "d", "labelExpr": "datum.value % 2 === 0 ? datum.label : ''", "gridDash": [2, 7]}},
"y": {"field": "amp", "type": "quantitative", "scale": {"domain": [10, 25], "nice": false, "zero": false}, "axis": {"title": "Amplitude (dB)", "values": [10, 15, 20, 25], "format": "d", "titleX": -59, "titleFontSize": 22, "gridDash": [2, 4]}},
"color": {"field": "series", "type": "nominal", "scale": {"domain": ["Quiet day", "Moderate geomagnetic storm"], "range": ["#3a55ad", "#ee2229"]},
"legend": {"orient": "none", "legendX": 3, "legendY": 78, "title": null, "padding": 0, "symbolType": "stroke", "symbolSize": 3025, "symbolStrokeWidth": 4, "symbolFillColor": "transparent", "clipHeight": 22, "rowPadding": 0, "labelBaseline": "middle", "labelFont": "Liberation Serif", "labelFontSize": 21, "labelColor": "#222", "labelOffset": 9, "labelLimit": 400, "labelExpr": "datum.label === 'Quiet day' ? 'Quiet day' : ['Moderate geomagnetic', 'storm']", "encode": {"labels": {"update": {"lineHeight": {"value": 22}}}}}}
}},
{"data": {"values": [{"x1": 11, "x2": 15, "y1": 10.15, "y2": 24.7}]},
"mark": {"type": "rect", "fill": "transparent", "stroke": "#000", "strokeWidth": 3, "strokeDash": [14, 8], "cornerRadius": 9, "clip": false},
"encoding": {
"x": {"field": "x1", "type": "quantitative", "scale": {"domain": [0, 24], "nice": false, "zero": false}},
"x2": {"field": "x2"},
"y": {"field": "y1", "type": "quantitative", "scale": {"domain": [10, 25], "nice": false, "zero": false}},
"y2": {"field": "y2"}
}}
]
},
{"width": 421, "height": 13, "view": {"stroke": null}, "data": {"values": [{"v": 0}]}, "mark": {"type": "point", "opacity": 0}},
{
"width": 418, "height": 143,
"layer": [
{"data": {"name": "nwcZoom"}, "mark": {"type": "line", "strokeWidth": 1.3},
"encoding": {
"x": {"field": "time", "type": "quantitative", "scale": {"domain": [12, 16], "nice": false, "zero": false}, "axis": {"title": "Time (UT)", "values": [12, 13, 14, 15, 16], "format": "d", "labelExpr": "datum.value % 2 === 0 ? datum.label : ''", "gridDash": [2, 5]}},
"y": {"field": "amp", "type": "quantitative", "scale": {"domain": [15, 25], "nice": false, "zero": false}, "axis": {"title": "Amplitude (dB)", "values": [15, 20, 25], "format": "d", "titleX": -59, "titleFontSize": 18, "labelFontSize": 20, "gridDash": [2, 5]}},
"color": {"field": "series", "type": "nominal", "scale": {"domain": ["Quiet day", "Moderate geomagnetic storm"], "range": ["#3a55ad", "#ee2229"]}, "legend": null}
}},
{"data": {"values": [{"x1": 13.84, "y1": 30.2, "x2": 12, "y2": 25}, {"x1": 14.51, "y1": 30.2, "x2": 16, "y2": 25}]},
"mark": {"type": "rule", "color": "#000", "strokeWidth": 3, "strokeDash": [14, 8], "clip": false},
"encoding": {
"x": {"field": "x1", "type": "quantitative", "scale": {"domain": [12, 16], "nice": false, "zero": false}},
"x2": {"field": "x2"},
"y": {"field": "y1", "type": "quantitative", "scale": {"domain": [15, 25], "nice": false, "zero": false}},
"y2": {"field": "y2"}
}}
]
},
{"width": 421, "height": 66, "view": {"stroke": null}, "data": {"values": [{"v": 0}]}, "mark": {"type": "point", "opacity": 0}},
{
"width": 421, "height": 160,
"title": {"text": "c) NPM"},
"layer": [
{"data": {"name": "npm"}, "mark": {"type": "line", "strokeWidth": 1.3},
"encoding": {
"x": {"field": "time", "type": "quantitative", "scale": {"domain": [0, 24], "nice": false, "zero": false}, "axis": {"title": "Time (UT)", "values": [0,1,2,3,4,5,6,7,8,9,10,11,12,13,14,15,16,17,18,19,20,21,22,23,24], "tickCount": 30, "format": "d", "labelExpr": "datum.value % 2 === 0 ? datum.label : ''", "gridDash": [2, 7]}},
"y": {"field": "amp", "type": "quantitative", "scale": {"domain": [4, 10], "nice": false, "zero": false}, "axis": {"title": "Amplitude (dB)", "values": [4, 6, 8, 10], "format": "d", "titleX": -61, "titleFontSize": 21.5, "gridDash": [2, 4]}},
"color": {"field": "series", "type": "nominal", "scale": {"domain": ["Quiet day", "Moderate geomagnetic storm"], "range": ["#3a55ad", "#ee2229"]},
"legend": {"orient": "none", "legendX": 3, "legendY": 8, "title": null, "padding": 0, "symbolType": "stroke", "symbolSize": 3025, "symbolStrokeWidth": 4, "symbolFillColor": "transparent", "clipHeight": 22, "rowPadding": 0, "labelBaseline": "middle", "labelFont": "Liberation Serif", "labelFontSize": 21, "labelColor": "#222", "labelOffset": 9, "labelLimit": 400, "labelExpr": "datum.label === 'Quiet day' ? 'Quiet day' : ['Moderate geomagnetic', 'storm']", "encode": {"labels": {"update": {"lineHeight": {"value": 22}}}}}}
}},
{"data": {"values": [{"x1": 12, "x2": 15.95, "y1": 4.05, "y2": 9.8}]},
"mark": {"type": "rect", "fill": "transparent", "stroke": "#000", "strokeWidth": 3, "strokeDash": [14, 8], "cornerRadius": 9, "clip": false},
"encoding": {
"x": {"field": "x1", "type": "quantitative", "scale": {"domain": [0, 24], "nice": false, "zero": false}},
"x2": {"field": "x2"},
"y": {"field": "y1", "type": "quantitative", "scale": {"domain": [4, 10], "nice": false, "zero": false}},
"y2": {"field": "y2"}
}}
]
},
{"width": 421, "height": 13, "view": {"stroke": null}, "data": {"values": [{"v": 0}]}, "mark": {"type": "point", "opacity": 0}},
{
"width": 421, "height": 148,
"layer": [
{"data": {"name": "npmZoom"}, "mark": {"type": "line", "strokeWidth": 1.3},
"encoding": {
"x": {"field": "time", "type": "quantitative", "scale": {"domain": [12, 16], "nice": false, "zero": false}, "axis": {"title": "Time (UT)", "values": [12, 13, 14, 15, 16], "format": "d", "labelExpr": "datum.value % 2 === 0 ? datum.label : ''", "gridDash": [2, 5]}},
"y": {"field": "amp", "type": "quantitative", "scale": {"domain": [6, 8.5], "nice": false, "zero": false}, "axis": {"title": "Amplitude (dB)", "values": [6, 7, 8], "format": "d", "titleX": -43, "titleFontSize": 20.5, "labelFontSize": 20, "gridDash": [2, 5]}},
"color": {"field": "series", "type": "nominal", "scale": {"domain": ["Quiet day", "Moderate geomagnetic storm"], "range": ["#3a55ad", "#ee2229"]}, "legend": null}
}},
{"data": {"values": [{"x1": 14.0, "y1": 9.74, "x2": 12, "y2": 8.5}, {"x1": 14.66, "y1": 9.74, "x2": 16, "y2": 8.5}]},
"mark": {"type": "rule", "color": "#000", "strokeWidth": 3, "strokeDash": [14, 8], "clip": false},
"encoding": {
"x": {"field": "x1", "type": "quantitative", "scale": {"domain": [12, 16], "nice": false, "zero": false}},
"x2": {"field": "x2"},
"y": {"field": "y1", "type": "quantitative", "scale": {"domain": [6, 8.5], "nice": false, "zero": false}},
"y2": {"field": "y2"}
}}
]
}
],
"config": {
"view": {"stroke": "#000", "strokeWidth": 1.5},
"font": "Liberation Sans",
"title": {"fontSize": 20, "fontWeight": "normal", "font": "Liberation Sans", "offset": 4, "color": "#111", "anchor": "middle"},
"axis": {"domain": false, "grid": true, "gridColor": "#000", "gridWidth": 1.3, "gridOpacity": 0.9, "ticks": false, "labelFont": "Liberation Sans", "labelFontSize": 21, "labelColor": "#111", "labelFlush": false, "labelOverlap": false, "titleFont": "Liberation Sans", "titleFontSize": 22, "titleFontWeight": "normal", "titleColor": "#111"},
"axisX": {"labelPadding": 6, "titlePadding": 6},
"axisY": {"labelPadding": 12, "titleBaseline": "middle"}
}
}
